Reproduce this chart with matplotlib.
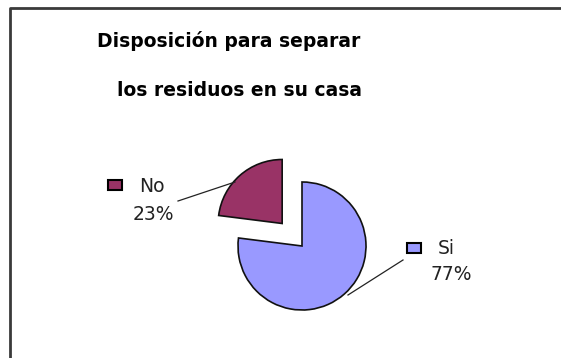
import matplotlib
matplotlib.use('Agg')
import matplotlib.pyplot as plt
from matplotlib.patches import Rectangle

# datos de la encuesta
categorias = ['Si', 'No']
porcentajes = [77, 23]
colores = ['#9999FF', '#993366']
titulo = ['Disposición para separar', 'los residuos en su casa']

W, H = 561, 358
fig = plt.figure(figsize=(W / 100, H / 100), dpi=100)
ax = fig.add_axes([0, 0, 1, 1])

# torta, empieza arriba y gira en sentido horario, "No" separado
# (explode va en las mismas unidades que el radio)
centro = (302, H - 246)
radio = 64
ax.pie(porcentajes, colors=colores, startangle=90, counterclock=False,
       explode=[0, 30], center=centro, radius=radio,
       wedgeprops=dict(edgecolor='#111111', linewidth=1.2))
ax.set_xlim(0, W)
ax.set_ylim(0, H)
ax.set_aspect('equal')
ax.axis('off')

# marco de la figura (solo arriba e izquierda)
ax.plot([10.5, 10.5, W], [0, H - 7.5, H - 7.5], color='#3a3a3a', lw=2,
        solid_capstyle='butt', clip_on=False)

# titulo en dos renglones
ax.text(229, H - 41, titulo[0], fontsize=13.5, fontweight='bold',
        family='DejaVu Sans', ha='center', va='center')
ax.text(240, H - 90, titulo[1], fontsize=13.5, fontweight='bold',
        family='DejaVu Sans', ha='center', va='center')

# etiquetas con cuadrito de color y porcentaje
etiquetas = {
    'Si': dict(cuadro=(407, 243), texto=(438, 248), pct=(451, 275),
               linea=[(403, 260), (348, 295)]),
    'No': dict(cuadro=(108, 180), texto=(139, 186), pct=(153, 215),
               linea=[(178, 201), (235, 182)]),
}
for cat, val, col in zip(categorias, porcentajes, colores):
    e = etiquetas[cat]
    cx, cy = e['cuadro']
    ax.add_patch(Rectangle((cx, H - cy - 10), 14, 10, facecolor=col,
                           edgecolor='black', lw=1.5))
    ax.text(e['texto'][0], H - e['texto'][1], cat, fontsize=13.5,
            family='DejaVu Sans', ha='left', va='center', color='#222222')
    ax.text(e['pct'][0], H - e['pct'][1], f'{val}%', fontsize=13.5,
            family='DejaVu Sans', ha='center', va='center', color='#222222')
    (x0, y0), (x1, y1) = e['linea']
    ax.plot([x0, x1], [H - y0, H - y1], color='#222222', lw=0.9)

fig.savefig('out.png', dpi=100, facecolor='white')
